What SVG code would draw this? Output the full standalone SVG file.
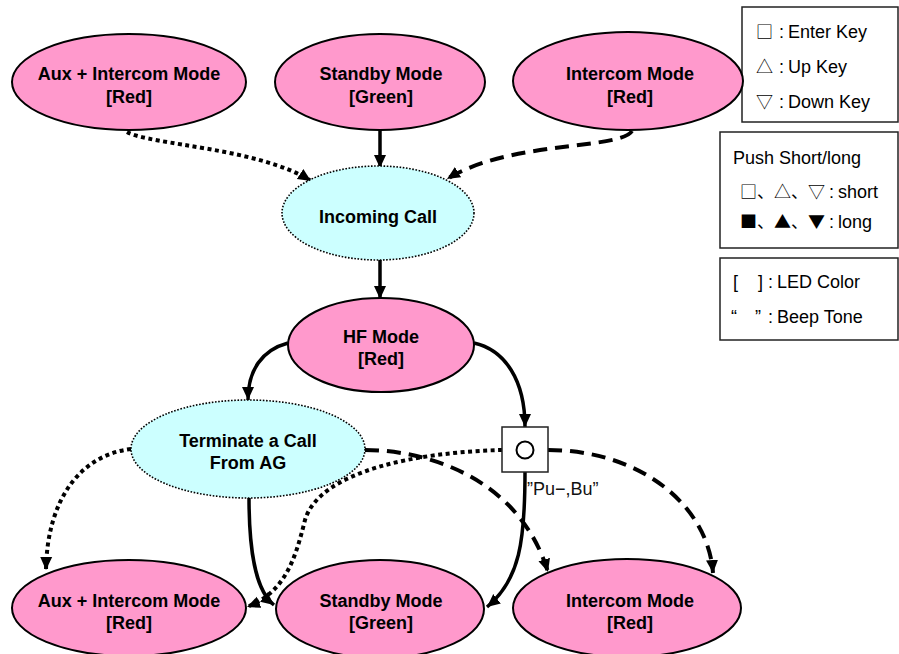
<svg xmlns="http://www.w3.org/2000/svg" width="899" height="654" viewBox="0 0 899 654">
<style>
.mode{fill:#FF99CC;stroke:#000;stroke-width:2}
.evt{fill:#CCFFFF;stroke:#000;stroke-width:1.6;stroke-dasharray:1.6 1.6}
.nt{font-family:"Liberation Sans",Arial,sans-serif;font-weight:bold;font-size:18px;text-anchor:middle;fill:#000}
.lg{font-family:"Liberation Sans","Noto Sans CJK JP",sans-serif;font-size:18px;fill:#000}
.sym{font-family:"Noto Sans CJK JP",sans-serif;font-size:17px}
.box{fill:#fff;stroke:#222;stroke-width:1.5}
.solid{fill:none;stroke:#000;stroke-width:3.5}
.dot{fill:none;stroke:#000;stroke-width:4;stroke-dasharray:4 3.5}
.dash{fill:none;stroke:#000;stroke-width:4;stroke-dasharray:14 8}
</style>
<defs>
<marker id="ah" markerUnits="userSpaceOnUse" markerWidth="14" markerHeight="14" refX="13" refY="7" orient="auto">
<path d="M0,1 L13,7 L0,13 z" fill="#000" stroke="none"/>
</marker>
</defs>
<rect width="899" height="654" fill="#fff"/>

<g id="legend-keys">
<rect class="box" x="742" y="7" width="156" height="115"/>
<text class="lg" y="38"><tspan class="sym" x="756">□</tspan><tspan x="779">:</tspan><tspan x="788">Enter Key</tspan></text>
<text class="lg" y="73"><tspan class="sym" x="756">△</tspan><tspan x="779">:</tspan><tspan x="788">Up Key</tspan></text>
<text class="lg" y="108"><tspan class="sym" x="756">▽</tspan><tspan x="779">:</tspan><tspan x="788">Down Key</tspan></text>
</g>
<g id="legend-push">
<rect class="box" x="720" y="132" width="178" height="116"/>
<text class="lg" x="733" y="164">Push Short/long</text>
<text class="lg" y="198"><tspan class="sym" x="740">□、△、▽</tspan><tspan x="829">:</tspan><tspan x="838">short</tspan></text>
<text class="lg" y="228"><tspan class="sym" x="740">■、▲、▼</tspan><tspan x="829">:</tspan><tspan x="838">long</tspan></text>
</g>
<g id="legend-led">
<rect class="box" x="720" y="258" width="178" height="82"/>
<text class="lg" y="288"><tspan x="733">[</tspan><tspan x="758">]</tspan><tspan x="768">:</tspan><tspan x="777">LED Color</tspan></text>
<text class="lg" y="323"><tspan x="731">“</tspan><tspan x="755">”</tspan><tspan x="768">:</tspan><tspan x="777">Beep Tone</tspan></text>
</g>

<g id="connectors">
<path class="dot" d="M127,132 C150,145 260,148 311,181" marker-end="url(#ah)"/>
<path class="solid" d="M380,131 L380,168" marker-end="url(#ah)"/>
<path class="dash" d="M632,131 C620,150 510,140 447,179" marker-end="url(#ah)"/>
<path class="solid" d="M380,260 L380,299" marker-end="url(#ah)"/>
<path class="solid" d="M288,343 C262,350 248,370 248,400" marker-end="url(#ah)"/>
<path class="solid" d="M474,343 C505,350 525,380 525,427" marker-end="url(#ah)"/>
<path class="dot" d="M131,449 C80,455 47,500 46,570" marker-end="url(#ah)"/>
<path class="solid" d="M249,497 C249,550 255,590 274,605" marker-end="url(#ah)"/>
<path class="dash" d="M365,450 C430,450 520,480 548,572" marker-end="url(#ah)"/>
<path class="dash" d="M548,450 C640,450 708,505 713,573" marker-end="url(#ah)"/>
<path class="solid" d="M525,472 C525,540 520,580 487,607" marker-end="url(#ah)"/>
<path class="dot" d="M502,450 C420,452 320,470 305,520 C295,560 285,592 247,607" marker-end="url(#ah)"/>
</g>

<g id="aux-top"><ellipse class="mode" cx="129" cy="82" rx="117" ry="48"/><text class="nt" x="129" y="80">Aux + Intercom Mode</text><text class="nt" x="129" y="103">[Red]</text></g>
<g id="standby-top"><ellipse class="mode" cx="380" cy="82" rx="105" ry="48"/><text class="nt" x="381" y="80">Standby Mode</text><text class="nt" x="381" y="103">[Green]</text></g>
<g id="intercom-top"><ellipse class="mode" cx="628" cy="81" rx="115" ry="49"/><text class="nt" x="630" y="80">Intercom Mode</text><text class="nt" x="630" y="103">[Red]</text></g>
<g id="incoming"><ellipse class="evt" cx="378" cy="213" rx="96" ry="47"/><text class="nt" x="378" y="223">Incoming Call</text></g>
<g id="hf"><ellipse class="mode" cx="381" cy="345" rx="93" ry="47"/><text class="nt" x="381" y="343">HF Mode</text><text class="nt" x="381" y="365">[Red]</text></g>
<g id="terminate"><ellipse class="evt" cx="248" cy="449" rx="117" ry="49"/><text class="nt" x="248" y="447">Terminate a Call</text><text class="nt" x="248" y="469">From AG</text></g>
<g id="enter-key"><rect x="502" y="427" width="46" height="45" fill="#fff" stroke="#222" stroke-width="1.5"/><circle cx="525" cy="450" r="8.5" fill="none" stroke="#000" stroke-width="2"/><text x="527" y="495" font-family="'Liberation Sans',Arial,sans-serif" font-size="18" fill="#111">”Pu−,Bu”</text></g>
<g id="aux-bottom"><ellipse class="mode" cx="129" cy="608" rx="117" ry="48"/><text class="nt" x="129" y="607">Aux + Intercom Mode</text><text class="nt" x="129" y="629">[Red]</text></g>
<g id="standby-bottom"><ellipse class="mode" cx="380" cy="609" rx="104" ry="49"/><text class="nt" x="381" y="607">Standby Mode</text><text class="nt" x="381" y="629">[Green]</text></g>
<g id="intercom-bottom"><ellipse class="mode" cx="627" cy="608" rx="114" ry="49"/><text class="nt" x="630" y="607">Intercom Mode</text><text class="nt" x="630" y="629">[Red]</text></g>
</svg>
